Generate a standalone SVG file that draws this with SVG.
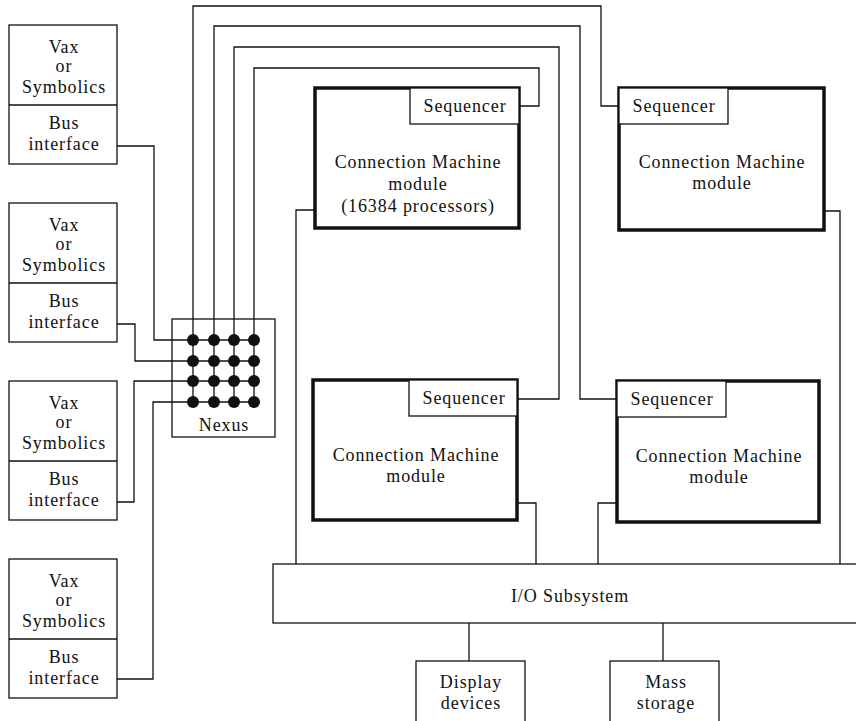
<svg xmlns="http://www.w3.org/2000/svg" width="856" height="721" viewBox="0 0 856 721">
<style>
  .t { font-family: "Liberation Serif", "Times New Roman", serif; font-size: 18px; letter-spacing: 0.9px; fill: #111; text-anchor: middle; }
  .box { fill: #fff; stroke: #111; stroke-width: 1.3; }
  .mod { fill: #fff; stroke: #111; stroke-width: 3.5; }
  .w { fill: none; stroke: #111; stroke-width: 1.3; }
  .dot { fill: #111; }
</style>
<rect x="0" y="0" width="856" height="721" fill="#fff"/>

<g id="connectors">
  <!-- host to nexus -->
  <polyline class="w" points="117,146 154,146 154,340 193,340"/>
  <polyline class="w" points="117,324 135,324 135,361 193,361"/>
  <polyline class="w" points="117,502 134,502 134,381 193,381"/>
  <polyline class="w" points="117,679 153,679 153,402 193,402"/>
  <!-- nexus to sequencers -->
  <polyline class="w" points="193,402 193,6 601,6 601,106 619,106"/>
  <polyline class="w" points="214,402 214,26 580,26 580,399 617,399"/>
  <polyline class="w" points="234,402 234,47 559,47 559,399 517,399"/>
  <polyline class="w" points="254,402 254,68 539,68 539,106 519,106"/>
  <!-- modules to I/O -->
  <polyline class="w" points="315,210 296,210 296,564"/>
  <polyline class="w" points="824,211 840,211 840,564"/>
  <polyline class="w" points="517,503 536,503 536,564"/>
  <polyline class="w" points="617,503 598,503 598,564"/>
  <!-- I/O to peripherals -->
  <line class="w" x1="469" y1="623" x2="469" y2="661"/>
  <line class="w" x1="663" y1="623" x2="663" y2="661"/>
</g>

<g id="host1">
  <rect class="box" x="9" y="25" width="108" height="139"/>
  <line class="w" x1="9" y1="105" x2="117" y2="105"/>
  <text class="t" x="64" y="53">Vax</text>
  <text class="t" x="64" y="72">or</text>
  <text class="t" x="64" y="93">Symbolics</text>
  <text class="t" x="64" y="129">Bus</text>
  <text class="t" x="64" y="150">interface</text>
</g>
<g id="host2">
  <rect class="box" x="9" y="203" width="108" height="139"/>
  <line class="w" x1="9" y1="283" x2="117" y2="283"/>
  <text class="t" x="64" y="231">Vax</text>
  <text class="t" x="64" y="250">or</text>
  <text class="t" x="64" y="271">Symbolics</text>
  <text class="t" x="64" y="307">Bus</text>
  <text class="t" x="64" y="328">interface</text>
</g>
<g id="host3">
  <rect class="box" x="9" y="381" width="108" height="139"/>
  <line class="w" x1="9" y1="461" x2="117" y2="461"/>
  <text class="t" x="64" y="409">Vax</text>
  <text class="t" x="64" y="428">or</text>
  <text class="t" x="64" y="449">Symbolics</text>
  <text class="t" x="64" y="485">Bus</text>
  <text class="t" x="64" y="506">interface</text>
</g>
<g id="host4">
  <rect class="box" x="9" y="559" width="108" height="139"/>
  <line class="w" x1="9" y1="639" x2="117" y2="639"/>
  <text class="t" x="64" y="587">Vax</text>
  <text class="t" x="64" y="606">or</text>
  <text class="t" x="64" y="627">Symbolics</text>
  <text class="t" x="64" y="663">Bus</text>
  <text class="t" x="64" y="684">interface</text>
</g>

<g id="nexus">
  <rect class="w" x="172" y="319" width="103" height="118"/>
  <line class="w" x1="193" y1="340" x2="254" y2="340"/>
  <line class="w" x1="193" y1="361" x2="254" y2="361"/>
  <line class="w" x1="193" y1="381" x2="254" y2="381"/>
  <line class="w" x1="193" y1="402" x2="254" y2="402"/>
  <g class="dot">
    <circle cx="193" cy="340" r="6"/><circle cx="214" cy="340" r="6"/><circle cx="234" cy="340" r="6"/><circle cx="254" cy="340" r="6"/>
    <circle cx="193" cy="361" r="6"/><circle cx="214" cy="361" r="6"/><circle cx="234" cy="361" r="6"/><circle cx="254" cy="361" r="6"/>
    <circle cx="193" cy="381" r="6"/><circle cx="214" cy="381" r="6"/><circle cx="234" cy="381" r="6"/><circle cx="254" cy="381" r="6"/>
    <circle cx="193" cy="402" r="6"/><circle cx="214" cy="402" r="6"/><circle cx="234" cy="402" r="6"/><circle cx="254" cy="402" r="6"/>
  </g>
  <text class="t" x="224" y="431">Nexus</text>
</g>

<g id="cm1">
  <rect class="mod" x="315" y="88" width="204" height="140"/>
  <rect class="box" x="410" y="88" width="109" height="36"/>
  <text class="t" x="465" y="112">Sequencer</text>
  <text class="t" x="418" y="168">Connection Machine</text>
  <text class="t" x="418" y="190">module</text>
  <text class="t" x="418" y="212">(16384 processors)</text>
</g>
<g id="cm2">
  <rect class="mod" x="619" y="88" width="205" height="142"/>
  <rect class="box" x="619" y="88" width="109" height="36"/>
  <text class="t" x="674" y="112">Sequencer</text>
  <text class="t" x="722" y="168">Connection Machine</text>
  <text class="t" x="722" y="189">module</text>
</g>
<g id="cm3">
  <rect class="mod" x="313" y="380" width="204" height="140"/>
  <rect class="box" x="409" y="380" width="108" height="36"/>
  <text class="t" x="464" y="404">Sequencer</text>
  <text class="t" x="416" y="461">Connection Machine</text>
  <text class="t" x="416" y="482">module</text>
</g>
<g id="cm4">
  <rect class="mod" x="617" y="381" width="202" height="141"/>
  <rect class="box" x="617" y="381" width="109" height="36"/>
  <text class="t" x="672" y="405">Sequencer</text>
  <text class="t" x="719" y="462">Connection Machine</text>
  <text class="t" x="719" y="483">module</text>
</g>

<g id="io">
  <rect class="box" x="273" y="564" width="590" height="59"/>
  <text class="t" x="570" y="602">I/O Subsystem</text>
</g>
<g id="display">
  <rect class="box" x="416" y="661" width="109" height="70"/>
  <text class="t" x="471" y="688">Display</text>
  <text class="t" x="471" y="709">devices</text>
</g>
<g id="storage">
  <rect class="box" x="610" y="661" width="109" height="70"/>
  <text class="t" x="666" y="688">Mass</text>
  <text class="t" x="666" y="709">storage</text>
</g>
</svg>
